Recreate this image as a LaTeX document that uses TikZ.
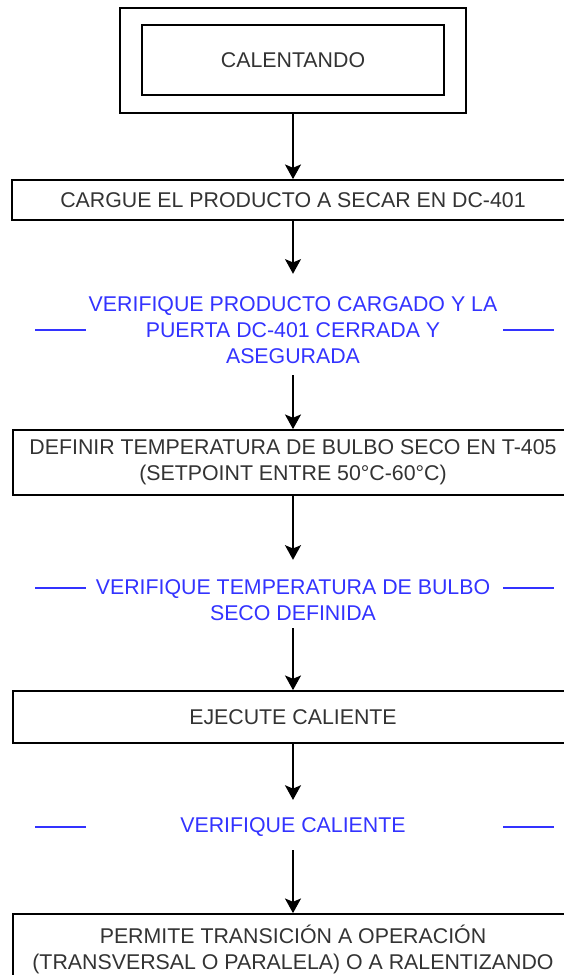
\documentclass[tikz,border=0pt]{standalone}
\usepackage{fontspec}
\setmainfont{Liberation Sans}
\usetikzlibrary{arrows.meta}
\definecolor{checkblue}{RGB}{51,51,255}
\tikzset{
  stepbox/.style={draw, line width=1.3pt, align=center, inner sep=0pt, text=black!80},
  check/.style={align=center, inner sep=0pt, text=checkblue},
  arr/.style={-{Stealth[length=11pt,width=12pt,inset=2.5pt]}, line width=1.3pt},
  side/.style={draw=checkblue, line width=1.5pt}
}
\begin{document}
\begin{tikzpicture}[x=0.75pt,y=-0.75pt,font=\fontsize{16}{19.5}\selectfont]
      \useasboundingbox (0,0) rectangle (564,975);
      \clip (0,0) rectangle (564,975);

      % Draw the states
      \node[stepbox, minimum width=259.5pt, minimum height=78.75pt] (outer) at (293,60.5) {};
      \node[stepbox, minimum width=226.5pt, minimum height=52.5pt] (calent) at (293,60) {CALENTANDO};
      \node[stepbox, minimum width=421.5pt, minimum height=30pt] (cargue) at (293,200) {CARGUE EL PRODUCTO A SECAR EN DC-401};
      \node[check] (v1) at (293,330) {VERIFIQUE PRODUCTO CARGADO Y LA\\PUERTA DC-401 CERRADA Y\\ASEGURADA};
      \node[stepbox, minimum width=420pt, minimum height=48.75pt] (defin) at (293,462.5) {DEFINIR TEMPERATURA DE BULBO SECO EN T-405\\(SETPOINT ENTRE 50°C-60°C)};
      \node[check] (v2) at (293,600) {VERIFIQUE TEMPERATURA DE BULBO\\SECO DEFINIDA};
      \node[stepbox, minimum width=420pt, minimum height=39pt] (ejec) at (293,717) {EJECUTE CALIENTE};
      \node[check] (v3) at (293,827) {VERIFIQUE CALIENTE};
      \node[stepbox, minimum width=420pt, minimum height=52.5pt] (perm) at (293,949) {PERMITE TRANSICIÓN A OPERACIÓN\\(TRANSVERSAL O PARALELA) O A RALENTIZANDO};

      % Draw the transitions
      \foreach \y in {330,588,827} {
        \draw[side] (35,\y) -- (86,\y);
        \draw[side] (503,\y) -- (554,\y);
      }

      % Draw the arrows
      \draw[arr] (outer.south) -- (cargue.north);
      \draw[arr] (cargue.south) -- ([yshift=16.8pt]v1.north);
      \draw[arr] ([yshift=-8.5pt]v1.south) -- (defin.north);
      \draw[arr] (defin.south) -- ([yshift=14.5pt]v2.north);
      \draw[arr] ([yshift=-5.5pt]v2.south) -- (ejec.north);
      \draw[arr] (ejec.south) -- ([yshift=13pt]v3.north);
      \draw[arr] ([yshift=-10pt]v3.south) -- (perm.north);
\end{tikzpicture}
\end{document}
